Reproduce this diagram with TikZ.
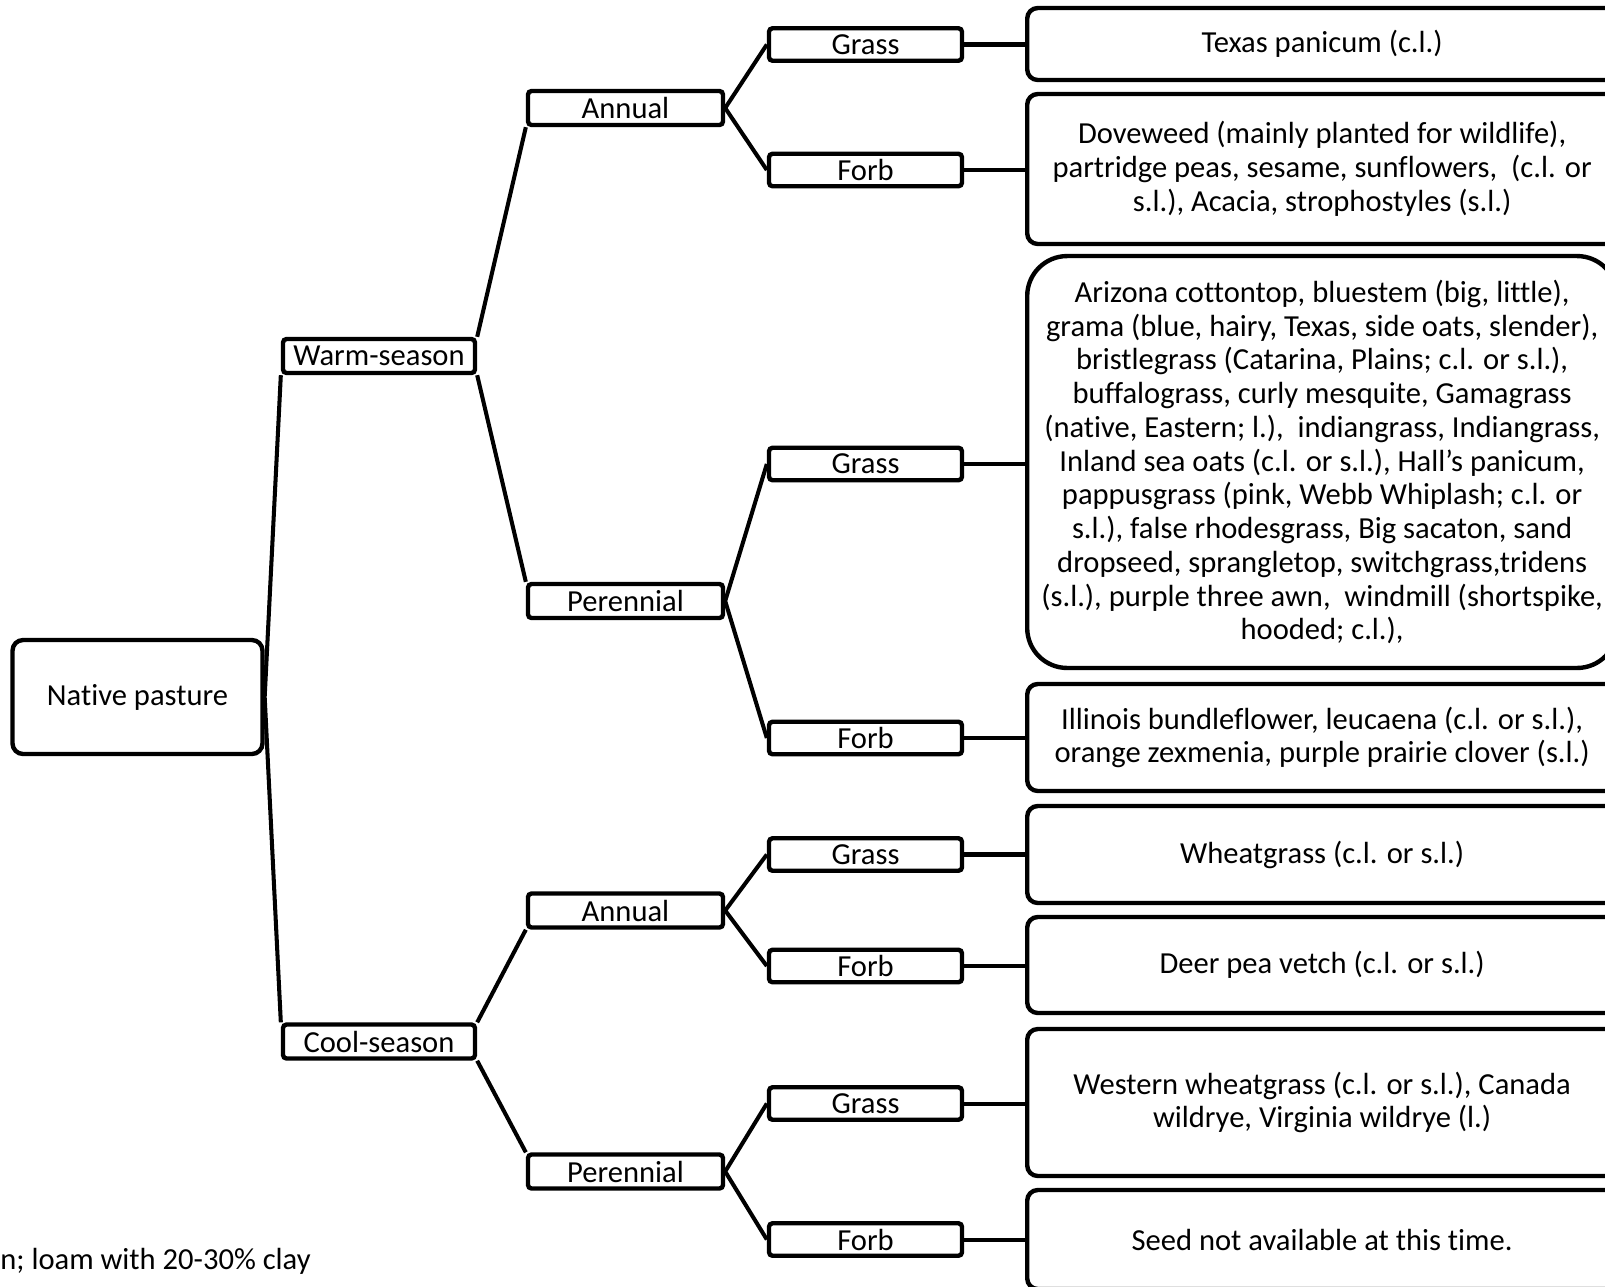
\documentclass[tikz,border=0pt]{standalone}
\usepackage{fontspec}
\setmainfont{Carlito}[Ligatures={TeX,NoCommon}]
\usepackage{tikz}
\usetikzlibrary{positioning}
\tikzset{
  basic/.style   = {draw, line width=2.5pt, inner sep=0pt, align=center,
                    font=\fontsize{17.4}{19.2}\selectfont},
  root/.style    = {basic, rounded corners=6pt, minimum width=5.0cm,
                    minimum height=2.28cm},
  level 1/.style = {basic, rounded corners=2pt, minimum width=3.84cm,
                    minimum height=0.68cm},
  level 2/.style = {basic, rounded corners=2pt, minimum width=3.9cm,
                    minimum height=0.68cm},
  level 3/.style = {basic, rounded corners=2pt, minimum width=3.86cm,
                    minimum height=0.65cm},
  leaf/.style    = {basic, rounded corners=6pt, anchor=west,
                    minimum width=11.8cm},
  link/.style    = {line width=2.3pt}
}
\begin{document}
\begin{tikzpicture}[x=0.02cm, y=-0.02cm]
  \useasboundingbox (0,0) rectangle (1605,1286);
  \clip (0,0) rectangle (1605,1286);
  % tree
  \node[root] (np) at (137.5,697) {Native pasture};
  \node[level 1] (warm) at (379,356)    {Warm-season};
  \node[level 1] (cool) at (379,1041.5) {Cool-season};
  \node[level 2] (wa) at (625.5,108)    {Annual};
  \node[level 2] (wp) at (625.5,601)    {Perennial};
  \node[level 2] (ca) at (625.5,910.5)  {Annual};
  \node[level 2] (cp) at (625.5,1171.5) {Perennial};
  \node[level 3] (wag) at (865.5,44.5)   {Grass};
  \node[level 3] (waf) at (865.5,170)    {Forb};
  \node[level 3] (wpg) at (865.5,464)    {Grass};
  \node[level 3] (wpf) at (865.5,738)    {Forb};
  \node[level 3] (cag) at (865.5,854.5)  {Grass};
  \node[level 3] (caf) at (865.5,966)    {Forb};
  \node[level 3] (cpg) at (865.5,1103.5) {Grass};
  \node[level 3] (cpf) at (865.5,1239.5) {Forb};
  % species lists
  \node[leaf, minimum height=1.44cm] (wagl) at (1025,44) {Texas panicum (c.l.)};
  \node[leaf, minimum height=3.0cm] (wafl) at (1025,169)
    {Doveweed (mainly planted for wildlife),\\
     partridge peas, sesame, sunflowers,~ (c.l. or\\
     s.l.), Acacia, strophostyles (s.l.)};
  \node[leaf, rounded corners=0.8cm, minimum height=8.24cm] (wpgl) at (1025,462)
    {Arizona cottontop, bluestem (big, little),\\
     grama (blue, hairy, Texas, side oats, slender),\\
     bristlegrass (Catarina, Plains; c.l. or s.l.),\\
     buffalograss, curly mesquite, Gamagrass\\
     (native, Eastern; l.),~ indiangrass, Indiangrass,\\
     Inland sea oats (c.l. or s.l.), Hall’s panicum,\\
     pappusgrass (pink, Webb Whiplash; c.l. or\\
     s.l.), false rhodesgrass, Big sacaton, sand\\
     dropseed, sprangletop, switchgrass,tridens\\
     (s.l.), purple three awn,~ windmill (shortspike,\\
     hooded; c.l.),};
  \node[leaf, minimum height=2.14cm] (wpfl) at (1025,737.5)
    {Illinois bundleflower, leucaena (c.l. or s.l.),\\
     orange zexmenia, purple prairie clover (s.l.)};
  \node[leaf, minimum height=1.94cm] (cagl) at (1025,854.5) {Wheatgrass (c.l. or s.l.)};
  \node[leaf, minimum height=1.92cm] (cafl) at (1025,965) {Deer pea vetch (c.l. or s.l.)};
  \node[leaf, minimum height=2.94cm] (cpgl) at (1025,1102.5)
    {Western wheatgrass (c.l. or s.l.), Canada\\
     wildrye, Virginia wildrye (l.)};
  \node[leaf, minimum height=1.98cm] (cpfl) at (1025,1239.5) {Seed not available at this time.};
  % note
  \node[anchor=west, inner sep=0pt, font=\fontsize{17.4}{19.2}\selectfont] (note) at (0,1261)
    {n; loam with 20-30\% clay};
  % connectors
  \draw[link] (warm.south west) -- (np.east) -- (cool.north west);
  \draw[link] (wa.south west) -- (warm.north east);
  \draw[link] (warm.south east) -- (wp.north west);
  \draw[link] (ca.south west) -- (cool.north east);
  \draw[link] (cool.south east) -- (cp.north west);
  \foreach \p/\g/\f in {wa/wag/waf, wp/wpg/wpf, ca/cag/caf, cp/cpg/cpf} {
    \draw[link] (\g.west) -- (\p.east) -- (\f.west);
    \draw[link] (\g.east) -- (\g.east -| \g l.west);
    \draw[link] (\f.east) -- (\f.east -| \f l.west);
  }
\end{tikzpicture}
\end{document}
